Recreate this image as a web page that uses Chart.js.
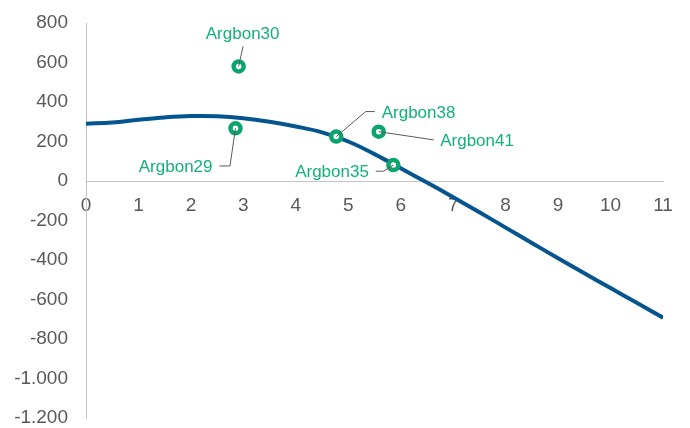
<!DOCTYPE html>
<html>
<head>
<meta charset="utf-8">
<script src="https://cdn.jsdelivr.net/npm/chart.js@4/dist/chart.umd.min.js"></script>
<style>
  html, body { margin: 0; padding: 0; background: #ffffff; }
  #wrap { width: 690px; height: 428px; }
</style>
</head>
<body>
<div id="wrap"><canvas id="c" width="690" height="428"></canvas></div>
<script>
// Sample names and their measured (x, y) values
const sampleNames = ['Argbon30', 'Argbon29', 'Argbon38', 'Argbon41', 'Argbon35'];
const sampleX = [2.91, 2.85, 4.77, 5.58, 5.86];
const sampleY = [580, 267, 225, 250, 81];

// Trend curve read along the x range
const curveX = [0, 0.5, 1, 1.5, 2, 2.5, 3, 3.5, 4, 4.5, 5, 5.5, 6, 6.5, 7, 7.5, 8, 8.5, 9, 9.5, 10, 10.5, 11];
const curveY = [290, 296, 310, 322, 329, 328, 318, 300, 276, 246, 200, 136, 64, -8, -82, -158, -236, -314, -391, -467, -542, -617, -692];

// Axis ranges and tick steps
const xRange = [0, 11];
const xStep = 1;
const yRange = [-1200, 800];
const yStep = 200;

const GREEN = '#0aa56f';
const LABEL_GREEN = '#13b279';
const BLUE = '#04558f';
const AXIS_GREY = '#c4c4c4';
const TEXT_GREY = '#595959';
const LEADER_GREY = '#5a5a5a';
const FONT = '"Liberation Sans", Arial, sans-serif';

// Leader line routes and label anchors, in pixels relative to each point
const labelLayout = {
  Argbon30: { path: [[4.4, -20]], text: [4, -32.5], align: 'center' },
  Argbon29: { path: [[-5.5, 37.7], [-16, 37.7]], text: [-23, 39], align: 'right' },
  Argbon38: { path: [[29.5, -25], [38.5, -25]], text: [45.5, -23.5], align: 'left' },
  Argbon41: { path: [[55, 8.3]], text: [61.5, 10], align: 'left' },
  Argbon35: { path: [[-10, 6.2], [-17.6, 6.2]], text: [-24.5, 7.5], align: 'right' }
};

// Thousands separator with a period: -1200 -> -1.000
function formatTick(v) {
  const s = Math.abs(v).toString().replace(/\B(?=(\d{3})+(?!\d))/g, '.');
  return (v < 0 ? '-' : '') + s;
}

const sampleLabels = {
  id: 'sampleLabels',
  afterDatasetsDraw(chart) {
    const ctx = chart.ctx;
    const meta = chart.getDatasetMeta(0);
    ctx.save();
    ctx.font = '17px ' + FONT;
    ctx.textBaseline = 'middle';
    meta.data.forEach((pt, i) => {
      const name = sampleNames[i];
      const lay = labelLayout[name];
      const px = pt.x, py = pt.y;
      ctx.beginPath();
      ctx.moveTo(px, py);
      lay.path.forEach(([dx, dy]) => ctx.lineTo(px + dx, py + dy));
      ctx.strokeStyle = LEADER_GREY;
      ctx.lineWidth = 1;
      ctx.stroke();
      ctx.fillStyle = LABEL_GREEN;
      ctx.textAlign = lay.align;
      ctx.fillText(name, px + lay.text[0], py + lay.text[1]);
    });
    ctx.restore();
  }
};

new Chart(document.getElementById('c'), {
  type: 'scatter',
  data: {
    datasets: [
      {
        label: 'samples',
        data: sampleX.map((x, i) => ({ x: x, y: sampleY[i] })),
        pointRadius: 5,
        pointBorderWidth: 4.5,
        pointBorderColor: GREEN,
        pointBackgroundColor: '#ffffff',
        pointHoverRadius: 5,
        showLine: false
      },
      {
        label: 'trend',
        data: curveX.map((x, i) => ({ x: x, y: curveY[i] })),
        showLine: true,
        borderColor: BLUE,
        borderWidth: 4,
        pointRadius: 0,
        tension: 0.4,
        fill: false
      }
    ]
  },
  options: {
    responsive: false,
    animation: false,
    devicePixelRatio: 1,
    layout: { padding: { left: 0, right: 27, top: 23, bottom: 10 } },
    plugins: {
      legend: { display: false },
      tooltip: { enabled: false }
    },
    scales: {
      x: {
        type: 'linear',
        position: { y: 0 },
        min: xRange[0],
        max: xRange[1],
        grid: { display: false, drawTicks: false },
        border: { display: true, color: AXIS_GREY, width: 1 },
        ticks: {
          stepSize: xStep,
          padding: 13,
          color: TEXT_GREY,
          font: { family: FONT, size: 19 },
          maxRotation: 0
        },
        afterFit(scale) { scale.paddingLeft = 0; scale.paddingRight = 0; }
      },
      y: {
        type: 'linear',
        position: 'left',
        min: yRange[0],
        max: yRange[1],
        grid: { display: false, drawTicks: false },
        border: { display: true, color: AXIS_GREY, width: 1 },
        ticks: {
          stepSize: yStep,
          padding: 18,
          color: TEXT_GREY,
          font: { family: FONT, size: 19 },
          callback: (v) => formatTick(v)
        },
        afterFit(scale) { scale.width = 86; scale.paddingTop = 0; scale.paddingBottom = 0; }
      }
    }
  },
  plugins: [sampleLabels]
});
</script>
</body>
</html>
